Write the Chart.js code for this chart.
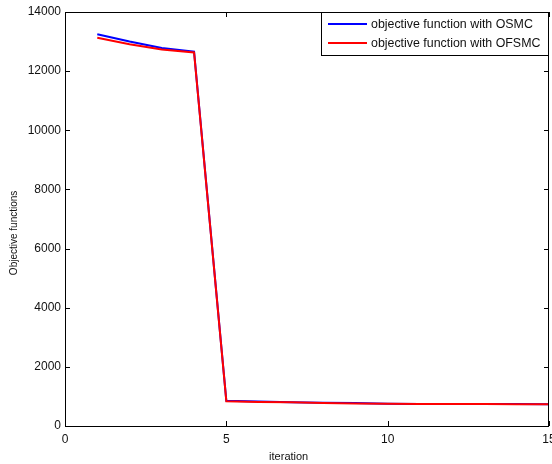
<!DOCTYPE html>
<html><head><meta charset="utf-8">
<script src="https://cdn.jsdelivr.net/npm/chart.js@4/dist/chart.umd.min.js"></script>
<style>html,body{margin:0;padding:0;background:#fff}#wrap{width:552px;height:464px}</style>
</head><body><div id="wrap"><canvas id="c" width="552" height="464"></canvas></div>
<script>
const iterations = [1,2,3,4,5,6,7,8,9,10,11,12,13,14,15];
const osmc  = [13250,13000,12780,12660,850,825,805,790,775,755,748,745,742,740,738];
const ofsmc = [13130,12910,12730,12630,840,815,800,780,765,750,745,742,740,738,735];
const seriesLabels = ['objective function with OSMC','objective function with OFSMC'];
const xTicks = [0,5,10,15];
const yTicks = [0,2000,4000,6000,8000,10000,12000,14000];
const xTitle = 'iteration';
const yTitle = 'Objective functions';

const FONT = '"Liberation Sans", Arial, sans-serif';

const framePlugin = {
  id: 'frame',
  afterDatasetsDraw(chart) {
    const {ctx, chartArea: a, scales} = chart;
    ctx.save();
    ctx.strokeStyle = '#000';
    ctx.lineWidth = 1;
    ctx.strokeRect(a.left + 0.5, a.top + 0.5, a.right - a.left - 1, a.bottom - a.top);
    const L = 5;
    ctx.beginPath();
    xTicks.forEach(v => {
      const x = Math.round(scales.x.getPixelForValue(v)) + 0.5;
      ctx.moveTo(x, a.bottom); ctx.lineTo(x, a.bottom - L);
      ctx.moveTo(x, a.top); ctx.lineTo(x, a.top + L);
    });
    yTicks.forEach(v => {
      const y = Math.round(scales.y.getPixelForValue(v)) + 0.5;
      ctx.moveTo(a.left, y); ctx.lineTo(a.left + L, y);
      ctx.moveTo(a.right, y); ctx.lineTo(a.right - L, y);
    });
    ctx.stroke();
    // legend box
    const bx = 321, by = a.top, bw = a.right - 321, bh = 43;
    ctx.fillStyle = '#fff';
    ctx.fillRect(bx, by, bw, bh);
    ctx.strokeRect(bx + 0.5, by + 0.5, bw - 1, bh);
    ctx.font = '12.4px ' + FONT;
    ctx.textBaseline = 'middle';
    chart.data.datasets.forEach((ds, i) => {
      const y = by + 12 + i * 19;
      ctx.strokeStyle = ds.borderColor;
      ctx.lineWidth = 2;
      ctx.beginPath(); ctx.moveTo(328, y); ctx.lineTo(367, y); ctx.stroke();
      ctx.fillStyle = '#111';
      ctx.fillText(ds.label, 371, y + 1);
    });
    ctx.restore();
  }
};

new Chart(document.getElementById('c'), {
  type: 'line',
  data: {
    datasets: [
      {label: seriesLabels[0], data: iterations.map((x,i)=>({x, y: osmc[i]})), borderColor: '#0000ff', borderWidth: 2, pointRadius: 0, tension: 0, order: 2},
      {label: seriesLabels[1], data: iterations.map((x,i)=>({x, y: ofsmc[i]})), borderColor: '#ff0000', borderWidth: 2, pointRadius: 0, tension: 0, order: 1}
    ]
  },
  options: {
    responsive: false,
    animation: false,
    layout: {padding: {top: 12, right: 3, left: 0, bottom: 0}},
    plugins: {legend: {display: false}, tooltip: {enabled: false}},
    scales: {
      x: {
        type: 'linear', min: 0, max: 15,
        afterBuildTicks: s => { s.ticks = xTicks.map(v => ({value: v})); },
        afterFit: s => { s.height = 38; s.paddingLeft = 0; s.paddingRight = 0; },
        grid: {display: false, drawTicks: false},
        border: {display: false},
        ticks: {font: {family: FONT, size: 12}, color: '#111', padding: 6, maxRotation: 0},
        title: {display: true, text: xTitle + '\u00a0'.repeat(12), font: {family: FONT, size: 11}, color: '#111', padding: {top: 0, bottom: 0}}
      },
      y: {
        min: 0, max: 14000,
        afterBuildTicks: s => { s.ticks = yTicks.map(v => ({value: v})); },
        afterFit: s => { s.width = 65; s.paddingTop = 0; s.paddingBottom = 0; },
        grid: {display: false, drawTicks: false},
        border: {display: false},
        ticks: {font: {family: FONT, size: 12}, color: '#111', padding: 4, callback: v => String(v)},
        title: {display: true, text: yTitle + '\u00a0'.repeat(10), font: {family: FONT, size: 10}, color: '#111', padding: {top: 8, bottom: 0}}
      }
    }
  },
  plugins: [framePlugin]
});
</script></body></html>
